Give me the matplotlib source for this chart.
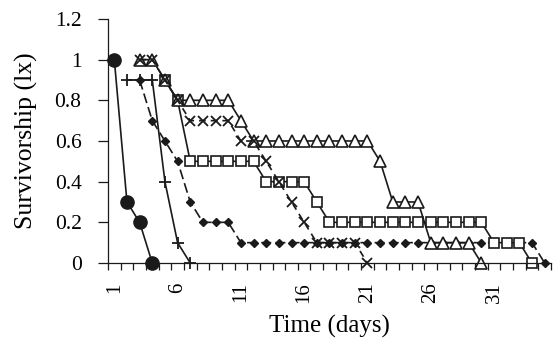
import numpy as np
from matplotlib import pyplot as plt
from matplotlib.ticker import FixedLocator

nan = np.nan

days = list(range(1, 36))

circle_values = [1.0, 0.3, 0.2, 0.0] + [nan] * 31
plus_values = [nan, 0.9, 0.9, 0.9, 0.4, 0.1, 0.0] + [nan] * 28
diamond_values = [nan, nan, 0.9, 0.7, 0.6, 0.5, 0.3, 0.2, 0.2, 0.2] + [0.1] * 24 + [0.0]
triangle_values = ([nan, nan, 1.0, 1.0, 0.9] + [0.8] * 5 + [0.7] + [0.6] * 10
                   + [0.5] + [0.3] * 3 + [0.1] * 4 + [0.0] + [nan] * 5)
cross_values = ([nan, nan, 1.0, 1.0, 0.9, 0.8] + [0.7] * 4 + [0.6, 0.6, 0.5, 0.4, 0.3, 0.2]
                + [0.1] * 4 + [0.0] + [nan] * 14)
square_values = ([nan] * 4 + [0.9, 0.8] + [0.5] * 6 + [0.4] * 4 + [0.3] + [0.2] * 13
                 + [0.1] * 3 + [0.0, nan])

x_tick_labels = ["1", "6", "11", "16", "21", "26", "31"]
y_ticks = [0, 0.2, 0.4, 0.6, 0.8, 1.0, 1.2]
y_tick_labels = ["0", "0.2", "0.4", "0.6", "0.8", "1", "1.2"]


def main():
    plt.rcParams["font.family"] = ["Liberation Serif", "DejaVu Serif"]

    figure = plt.figure(figsize=(5.56, 3.47), dpi=100)
    axis = figure.add_axes([0.1942, 0.2421, 0.7968, 0.7032])

    ink = "#1a1a1a"
    common = dict(color=ink, linewidth=1.2, clip_on=False)

    axis.plot(days, diamond_values, marker="D", markersize=3.6,
              markerfacecolor=ink, markeredgecolor=ink,
              dashes=(6, 2.5), **common)
    axis.plot(days, square_values, marker="s", markersize=6.5,
              markerfacecolor="white", markeredgecolor=ink,
              markeredgewidth=1.2, **common)
    axis.plot(days, triangle_values, marker="^", markersize=8.5,
              markerfacecolor="white", markeredgecolor=ink,
              markeredgewidth=1.2, **common)
    axis.plot(days, cross_values, marker="x", markersize=6.5,
              markeredgecolor=ink, markeredgewidth=1.3,
              dashes=(4, 3), **common)
    axis.plot(days, plus_values, marker="+", markersize=9,
              markeredgecolor=ink, markeredgewidth=1.3, **common)
    axis.plot(days, circle_values, marker="o", markersize=9.5,
              markerfacecolor=ink, markeredgecolor=ink, **common)

    axis.set_xlim(0.5, 35.5)
    axis.set_ylim(0, 1.2)

    axis.set_xticks([int(label) for label in x_tick_labels])
    axis.set_xticklabels(x_tick_labels, rotation=90, fontsize=15)
    axis.xaxis.set_minor_locator(FixedLocator(np.arange(0.5, 36, 1)))
    axis.tick_params(axis="x", which="major", length=0, pad=14)
    axis.tick_params(axis="x", which="minor", length=5, width=0.9,
                     direction="out", color=ink)

    axis.set_yticks(y_ticks)
    axis.set_yticklabels(y_tick_labels, fontsize=15.5)
    axis.tick_params(axis="y", length=7, width=0.9, direction="out",
                     color=ink, pad=12)

    for side in ["top", "right"]:
        axis.spines[side].set_visible(False)
    for side in ["left", "bottom"]:
        axis.spines[side].set_color(ink)
        axis.spines[side].set_linewidth(0.9)

    axis.set_xlabel("Time (days)", fontsize=18, labelpad=8)
    axis.set_ylabel("Survivorship (lx)", fontsize=18.5, labelpad=12)

    figure.savefig("out.png", dpi=100, facecolor="white")


if __name__ == '__main__':
    main()
